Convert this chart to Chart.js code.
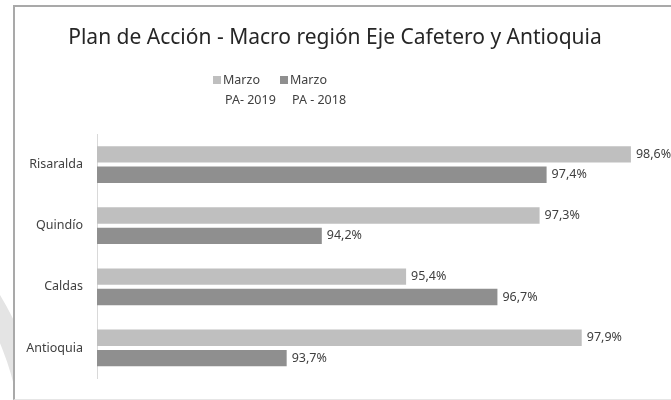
<!DOCTYPE html>
<html>
<head>
<meta charset="utf-8">
<script src="https://cdn.jsdelivr.net/npm/chart.js@4/dist/chart.umd.min.js"></script>
<style>
  html, body { margin: 0; padding: 0; background: #fff; }
  #wrap { position: relative; width: 671px; height: 400px; overflow: hidden; }
  #ring { position: absolute; left: -560px; top: 150px; width: 560px; height: 560px; border: 22px solid #e4e4e4; border-radius: 50%; }
  #box { position: absolute; left: 13px; top: 5px; width: 680px; height: 392px; background: #fff;
         border-left: 2px solid #a9a9a9; border-top: 2px solid #a9a9a9; border-bottom: 1px solid #e6e6e6; }
  canvas { position: absolute; left: 0; top: 0; }
</style>
</head>
<body>
<div id="wrap">
  <div id="ring"></div>
  <div id="box"></div>
  <canvas id="myChart" width="671" height="400"></canvas>
</div>
<script>
// categories
var regiones = ['Risaralda', 'Quindío', 'Caldas', 'Antioquia'];
// series values (%)
var pa2019 = [98.6, 97.3, 95.4, 97.9];
var pa2018 = [97.4, 94.2, 96.7, 93.7];
// legend labels (two lines each)
var label2019 = ['Marzo', 'PA- 2019'];
var label2018 = ['Marzo', 'PA - 2018'];

var fontFam = "'Noto Sans', sans-serif";
var textColor = '#404040';

// title + legend drawn by hand so the legend labels can wrap
var headerPlugin = {
  id: 'header',
  afterDraw: function(chart) {
    var ctx = chart.ctx;
    ctx.save();
    ctx.fillStyle = '#262626';
    ctx.font = '21px ' + fontFam;
    ctx.textAlign = 'center';
    ctx.textBaseline = 'middle';
    ctx.fillText('Plan de Acción - Macro región Eje Cafetero y Antioquia', 335, 38);

    ctx.font = '12.5px ' + fontFam;
    ctx.textAlign = 'left';
    var xs = [213, 280];
    chart.data.datasets.forEach(function(ds, i) {
      ctx.fillStyle = ds.backgroundColor;
      ctx.fillRect(xs[i], 76, 8, 8);
      ctx.fillStyle = textColor;
      ctx.fillText(ds.label[0], xs[i] + 10, 80);
      ctx.fillText(ds.label[1], xs[i] + 12, 100);
    });
    ctx.restore();
  }
};

// value labels at the end of each bar
var valueLabels = {
  id: 'valueLabels',
  afterDatasetsDraw: function(chart) {
    var ctx = chart.ctx;
    ctx.save();
    ctx.fillStyle = textColor;
    ctx.font = '12.5px ' + fontFam;
    ctx.textAlign = 'left';
    ctx.textBaseline = 'middle';
    chart.data.datasets.forEach(function(ds, i) {
      chart.getDatasetMeta(i).data.forEach(function(bar, j) {
        var txt = ds.data[j].toFixed(1).replace('.', ',') + '%';
        ctx.fillText(txt, bar.x + 5, bar.y);
      });
    });
    ctx.restore();
  }
};

var ctx = document.getElementById('myChart').getContext('2d');
var myChart = new Chart(ctx, {
  type: 'bar',
  data: {
    labels: regiones,
    datasets: [{
      label: label2019,
      data: pa2019,
      backgroundColor: '#bfbfbf',
      categoryPercentage: 0.67,
      barPercentage: 0.8
    }, {
      label: label2018,
      data: pa2018,
      backgroundColor: '#8f8f8f',
      categoryPercentage: 0.67,
      barPercentage: 0.8
    }]
  },
  options: {
    indexAxis: 'y',
    responsive: false,
    animation: false,
    layout: { padding: { left: 0, top: 134, right: 12, bottom: 20 } },
    plugins: {
      legend: { display: false },
      title: { display: false },
      tooltip: { enabled: false }
    },
    scales: {
      x: {
        display: false,
        min: 91,
        max: 99
      },
      y: {
        afterFit: function(scale) { scale.width = 97; },
        grid: { display: false, drawTicks: false },
        border: { display: true, color: '#d9d9d9', width: 1 },
        ticks: {
          color: textColor,
          padding: 14,
          font: { family: fontFam, size: 12.5 }
        }
      }
    }
  },
  plugins: [headerPlugin, valueLabels]
});
</script>
</body>
</html>
